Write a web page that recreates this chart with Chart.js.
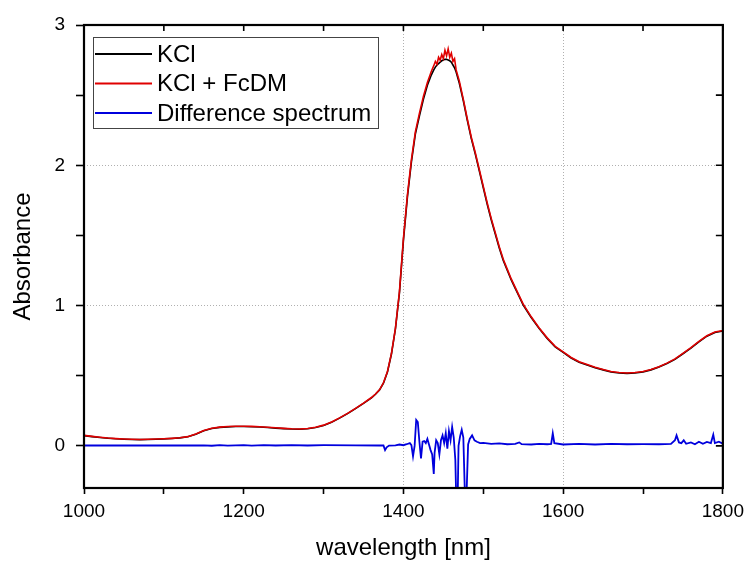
<!DOCTYPE html>
<html>
<head>
<meta charset="utf-8">
<script src="https://cdn.jsdelivr.net/npm/chart.js@4.4.1/dist/chart.umd.min.js"></script>
<style>
  html, body { margin: 0; padding: 0; background: #fff; }
</style>
</head>
<body>
<canvas id="myChart" width="750" height="561"></canvas>
<script>
// wavelength grid [nm] for the two absorbance spectra
const wavelengths = [
  1000, 1010, 1020, 1030, 1040, 1050, 1060, 1070, 1080, 1090,
  1100, 1110, 1120, 1130, 1140, 1150, 1160, 1170, 1180, 1190,
  1200, 1210, 1220, 1230, 1240, 1250, 1260, 1270, 1280, 1290,
  1300, 1310, 1320, 1330, 1340, 1350, 1360, 1365, 1370, 1375,
  1380, 1385, 1390, 1395, 1400, 1405, 1410, 1415, 1420, 1425,
  1430, 1435, 1438, 1440, 1442, 1444, 1446, 1448, 1450, 1452,
  1454, 1456, 1458, 1460, 1462, 1464, 1466, 1470, 1475, 1480,
  1485, 1490, 1495, 1500, 1505, 1510, 1515, 1520, 1525, 1530,
  1535, 1540, 1545, 1550, 1560, 1570, 1580, 1590, 1600, 1610,
  1620, 1630, 1640, 1650, 1660, 1670, 1680, 1690, 1700, 1710,
  1720, 1730, 1740, 1750, 1760, 1770, 1780, 1790, 1800
];

const kclAbs = [
  0.073, 0.066, 0.060, 0.055, 0.051, 0.048, 0.046, 0.045, 0.046, 0.048,
  0.050, 0.053, 0.057, 0.065, 0.083, 0.108, 0.124, 0.132, 0.136, 0.138,
  0.138, 0.137, 0.135, 0.131, 0.127, 0.123, 0.120, 0.119, 0.122, 0.131,
  0.146, 0.168, 0.198, 0.230, 0.266, 0.303, 0.343, 0.368, 0.398, 0.447,
  0.527, 0.655, 0.835, 1.090, 1.465, 1.775, 2.025, 2.225, 2.350, 2.470,
  2.570, 2.645, 2.680, 2.700, 2.715, 2.725, 2.735, 2.745, 2.750, 2.755,
  2.755, 2.750, 2.745, 2.735, 2.715, 2.695, 2.665, 2.585, 2.460, 2.320,
  2.190, 2.080, 1.960, 1.840, 1.720, 1.610, 1.510, 1.410, 1.322, 1.252,
  1.183, 1.123, 1.064, 1.004, 0.915, 0.836, 0.766, 0.706, 0.666, 0.627,
  0.597, 0.577, 0.557, 0.542, 0.527, 0.520, 0.517, 0.520, 0.527, 0.542,
  0.562, 0.587, 0.617, 0.657, 0.697, 0.742, 0.782, 0.809, 0.819
];

const kclFcdmAbs = [
  0.075, 0.068, 0.062, 0.056, 0.052, 0.049, 0.047, 0.046, 0.047, 0.049,
  0.051, 0.054, 0.058, 0.066, 0.085, 0.110, 0.126, 0.134, 0.138, 0.140,
  0.140, 0.139, 0.137, 0.133, 0.129, 0.125, 0.122, 0.121, 0.124, 0.133,
  0.148, 0.170, 0.200, 0.232, 0.268, 0.305, 0.345, 0.370, 0.400, 0.450,
  0.530, 0.660, 0.840, 1.100, 1.480, 1.790, 2.040, 2.240, 2.370, 2.490,
  2.590, 2.670, 2.710, 2.740, 2.720, 2.770, 2.750, 2.790, 2.760, 2.820,
  2.780, 2.830, 2.770, 2.800, 2.740, 2.760, 2.680, 2.600, 2.470, 2.330,
  2.200, 2.090, 1.970, 1.850, 1.730, 1.620, 1.520, 1.420, 1.330, 1.260,
  1.190, 1.130, 1.070, 1.010, 0.920, 0.840, 0.770, 0.710, 0.670, 0.630,
  0.600, 0.580, 0.560, 0.545, 0.530, 0.523, 0.520, 0.523, 0.530, 0.545,
  0.565, 0.590, 0.620, 0.660, 0.700, 0.745, 0.785, 0.812, 0.822
];

// difference spectrum has its own (denser) wavelength grid
const diffWavelengths = [
  1000, 1100, 1150, 1160, 1170, 1180, 1200, 1210, 1225, 1240,
  1260, 1280, 1300, 1340, 1370, 1375, 1377, 1379, 1382, 1390,
  1395, 1400, 1404, 1408, 1410, 1412, 1414, 1416, 1418, 1420,
  1422, 1424, 1426, 1428, 1430, 1432, 1434, 1436, 1438, 1439,
  1441, 1443, 1445, 1447, 1449, 1451, 1453, 1455, 1457, 1459,
  1461, 1463, 1465, 1466, 1468, 1469, 1471, 1473, 1475, 1477,
  1479, 1481, 1483, 1486, 1489, 1492, 1496, 1500, 1510, 1520,
  1530, 1540, 1545, 1548, 1560, 1570, 1580, 1585, 1587, 1589,
  1600, 1620, 1640, 1660, 1680, 1700, 1720, 1735, 1740, 1742,
  1745, 1748, 1751, 1754, 1760, 1765, 1770, 1775, 1780, 1785,
  1788, 1790, 1795, 1800
];

const diffAbs = [
  0.003, 0.003, 0.004, 0.001, 0.005, 0.002, 0.006, 0.002, 0.006, 0.003,
  0.006, 0.003, 0.005, 0.004, 0.003, 0.004, -0.030, -0.010, 0.002, 0.004,
  0.010, 0.005, 0.012, 0.020, 0.005, -0.075, 0.000, 0.185, 0.170, 0.030,
  -0.090, 0.030, 0.035, 0.020, 0.050, 0.010, -0.030, -0.060, -0.200, -0.050,
  0.040, 0.020, -0.060, 0.040, 0.075, 0.020, 0.090, -0.020, 0.105, 0.040,
  0.135, 0.060, -0.100, -0.350, -0.350, 0.000, 0.070, 0.115, 0.060, -0.350,
  -0.350, 0.010, 0.050, 0.075, 0.040, 0.030, 0.020, 0.022, 0.015, 0.018,
  0.012, 0.015, 0.025, 0.012, 0.010, 0.014, 0.012, 0.015, 0.090, 0.020,
  0.010, 0.014, 0.010, 0.015, 0.012, 0.013, 0.012, 0.015, 0.040, 0.075,
  0.025, 0.020, 0.040, 0.015, 0.025, 0.012, 0.030, 0.015, 0.028, 0.020,
  0.080, 0.020, 0.030, 0.015
];

const xTickLabels = [1000, 1200, 1400, 1600, 1800];
const yTickLabels = [0, 1, 2, 3];
const xGridValues = [1400, 1600];
const yGridValues = [1, 2];

const FONT = "'Liberation Sans', Arial, sans-serif";

const toPoints = (xs, ys) => xs.map((x, i) => ({ x: x, y: ys[i] }));

// white background, box frame with inward ticks on top/right, legend inside plot
const framePlugin = {
    id: 'frame',
    beforeDraw(chart) {
        const ctx = chart.ctx;
        ctx.save();
        ctx.fillStyle = '#fff';
        ctx.fillRect(0, 0, chart.width, chart.height);
        ctx.restore();
    },
    afterDraw(chart) {
        const { ctx, chartArea: a, scales } = chart;
        ctx.save();
        ctx.strokeStyle = '#000';
        ctx.lineWidth = 2.2;
        ctx.strokeRect(a.left, a.top, a.right - a.left, a.bottom - a.top);

        ctx.lineWidth = 1.6;
        ctx.beginPath();
        scales.x.ticks.forEach(t => {
            const px = scales.x.getPixelForValue(t.value);
            ctx.moveTo(px, a.top);
            ctx.lineTo(px, a.top + 6);
        });
        scales.y.ticks.forEach(t => {
            const py = scales.y.getPixelForValue(t.value);
            ctx.moveTo(a.right, py);
            ctx.lineTo(a.right - 7, py);
        });
        ctx.stroke();

        // legend
        const bx = 93, by = 37, bw = 285, bh = 91;
        ctx.fillStyle = '#fff';
        ctx.fillRect(bx, by, bw, bh);
        ctx.strokeStyle = '#444';
        ctx.lineWidth = 1;
        ctx.strokeRect(bx + 0.5, by + 0.5, bw, bh);
        ctx.font = '24px ' + FONT;
        ctx.textBaseline = 'middle';
        ctx.textAlign = 'left';
        chart.data.datasets.forEach((ds, i) => {
            const ry = by + 17 + i * 29.5;
            ctx.strokeStyle = ds.borderColor;
            ctx.lineWidth = 2;
            ctx.beginPath();
            ctx.moveTo(bx + 2, ry);
            ctx.lineTo(bx + 59, ry);
            ctx.stroke();
            ctx.fillStyle = '#000';
            ctx.fillText(ds.label, bx + 64, ry + 1);
        });
        ctx.restore();
    }
};

new Chart(document.getElementById('myChart'), {
    type: 'line',
    data: {
        datasets: [
            {
                label: 'KCl',
                data: toPoints(wavelengths, kclAbs),
                borderColor: '#000000',
                borderWidth: 1.6,
                order: 2
            },
            {
                label: 'KCl + FcDM',
                data: toPoints(wavelengths, kclFcdmAbs),
                borderColor: '#e00000',
                borderWidth: 1.6,
                order: 1
            },
            {
                label: 'Difference spectrum',
                data: toPoints(diffWavelengths, diffAbs),
                borderColor: '#0000dd',
                borderWidth: 1.8,
                order: 0
            }
        ]
    },
    options: {
        responsive: false,
        animation: false,
        devicePixelRatio: 1,
        layout: { padding: { top: 25, right: 24, left: 0, bottom: 0 } },
        elements: { point: { radius: 0 }, line: { tension: 0 } },
        plugins: {
            legend: { display: false },
            tooltip: { enabled: false }
        },
        scales: {
            x: {
                type: 'linear',
                min: 1000,
                max: 1800,
                afterFit: s => { s.height = 73; },
                ticks: {
                    stepSize: 100,
                    autoSkip: false,
                    maxRotation: 0,
                    padding: 6,
                    color: '#000',
                    font: { family: FONT, size: 19 },
                    callback: v => xTickLabels.includes(v) ? String(v) : ''
                },
                grid: {
                    color: c => xGridValues.includes(c.tick && c.tick.value) ? '#b0b0b0' : 'rgba(0,0,0,0)',
                    lineWidth: 1,
                    tickColor: '#000',
                    tickLength: 6,
                    tickWidth: 1.6
                },
                border: { display: false, dash: [1, 2] },
                title: {
                    display: true,
                    text: 'wavelength [nm]',
                    color: '#000',
                    font: { family: FONT, size: 24, lineHeight: 1 },
                    padding: { top: 0, bottom: 1 }
                }
            },
            y: {
                min: -0.3,
                max: 3,
                afterFit: s => { s.width = 84; },
                afterBuildTicks: s => { s.ticks = s.ticks.filter(t => t.value > -0.01); },
                ticks: {
                    stepSize: 0.5,
                    autoSkip: false,
                    padding: 11,
                    color: '#000',
                    font: { family: FONT, size: 19 },
                    callback: v => yTickLabels.includes(v) ? String(v) : ''
                },
                grid: {
                    color: c => yGridValues.includes(c.tick && c.tick.value) ? '#b0b0b0' : 'rgba(0,0,0,0)',
                    lineWidth: 1,
                    tickColor: '#000',
                    tickLength: 8,
                    tickWidth: 1.6
                },
                border: { display: false, dash: [1, 2] },
                title: {
                    display: true,
                    text: 'Absorbance',
                    color: '#000',
                    font: { family: FONT, size: 24, lineHeight: 1 },
                    padding: { top: 11, bottom: 0 }
                }
            }
        }
    },
    plugins: [framePlugin]
});
</script>
</body>
</html>
